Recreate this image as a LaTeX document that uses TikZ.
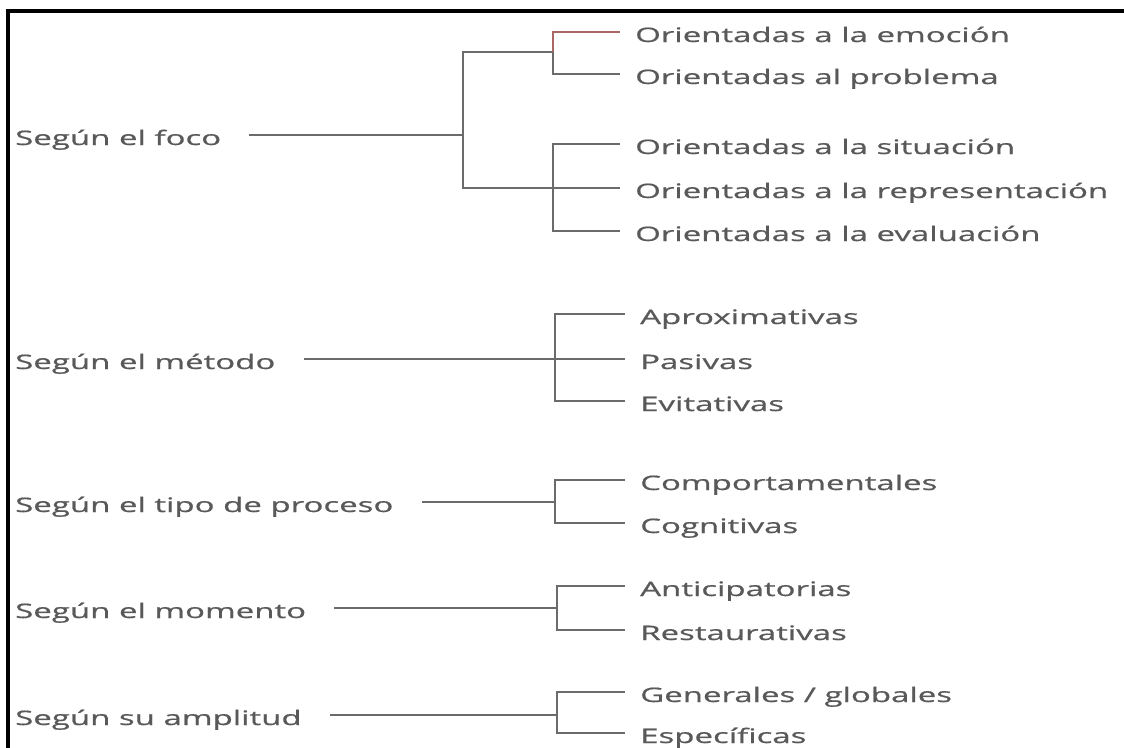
\documentclass[tikz,border=0pt]{standalone}
\usepackage{fontspec}
\setmainfont[FakeStretch=1.65,FakeBold=0.7]{Open Sans}
\begin{document}
\begin{tikzpicture}[x=1pt,y=-1pt,
  txt/.style={inner sep=0pt, text height=20pt, text depth=0pt, anchor=west,
              text=black!65, font=\fontsize{20pt}{24pt}\selectfont},
  cat/.style={txt},
  leaf/.style={txt},
  link/.style={draw=black!58, line width=1.3pt},
  fromcat/.style={link, shorten <=28pt},
  toleaf/.style={link, shorten >=15pt}]
\useasboundingbox (0,0) rectangle (1124,747);
\fill[white] (0,0) rectangle (1124,747);

% frame
\draw[line width=3.5pt] (8,760) -- (8,11) -- (1130,11);

% --- Según el foco ---
\node[cat] (foco) at (15,135) {Según el foco};
\node[leaf] (f1) at (635,32)  {Orientadas a la emoción};
\node[leaf] (f2) at (635,74)  {Orientadas al problema};
\node[leaf] (f3) at (635,144) {Orientadas a la situación};
\node[leaf] (f4) at (635,188) {Orientadas a la representación};
\node[leaf] (f5) at (635,231) {Orientadas a la evaluación};
\coordinate (jf) at (463,135);
\coordinate (ka) at (553,52);
\coordinate (kb) at (553,188);
\draw[fromcat] (foco.east) -- (jf);
\draw[link] (jf) |- (ka);
\draw[toleaf] (jf) |- (f4.west);
\draw[toleaf, draw=red!45!black!60] (ka) |- (f1.west);
\draw[toleaf] (ka) |- (f2.west);
\draw[toleaf] (kb) |- (f3.west);
\draw[toleaf] (kb) |- (f5.west);

% --- Según el método ---
\node[cat] (metodo) at (15,359) {Según el método};
\node[leaf] (m1) at (640,314) {Aproximativas};
\node[leaf] (m2) at (640,359) {Pasivas};
\node[leaf] (m3) at (640,401) {Evitativas};
\coordinate (jm) at (555,359);
\draw[fromcat] (metodo.east) -- (jm);
\draw[toleaf] (jm) -- (m2.west);
\draw[toleaf] (jm) |- (m1.west);
\draw[toleaf] (jm) |- (m3.west);

% --- Según el tipo de proceso ---
\node[cat] (tipo) at (15,502) {Según el tipo de proceso};
\node[leaf] (t1) at (640,480) {Comportamentales};
\node[leaf] (t2) at (640,523) {Cognitivas};
\coordinate (jt) at (555,502);
\draw[fromcat] (tipo.east) -- (jt);
\draw[toleaf] (jt) |- (t1.west);
\draw[toleaf] (jt) |- (t2.west);

% --- Según el momento ---
\node[cat] (momento) at (15,608) {Según el momento};
\node[leaf] (n1) at (640,586) {Anticipatorias};
\node[leaf] (n2) at (640,630) {Restaurativas};
\coordinate (jn) at (557,608);
\draw[fromcat] (momento.east) -- (jn);
\draw[toleaf] (jn) |- (n1.west);
\draw[toleaf] (jn) |- (n2.west);

% --- Según su amplitud ---
\node[cat] (amplitud) at (15,715) {Según su amplitud};
\node[leaf] (a1) at (640,692) {Generales / globales};
\node[leaf] (a2) at (640,733) {Específicas};
\coordinate (ja) at (557,715);
\draw[fromcat] (amplitud.east) -- (ja);
\draw[toleaf] (ja) |- (a1.west);
\draw[toleaf] (ja) |- (a2.west);
\end{tikzpicture}
\end{document}
